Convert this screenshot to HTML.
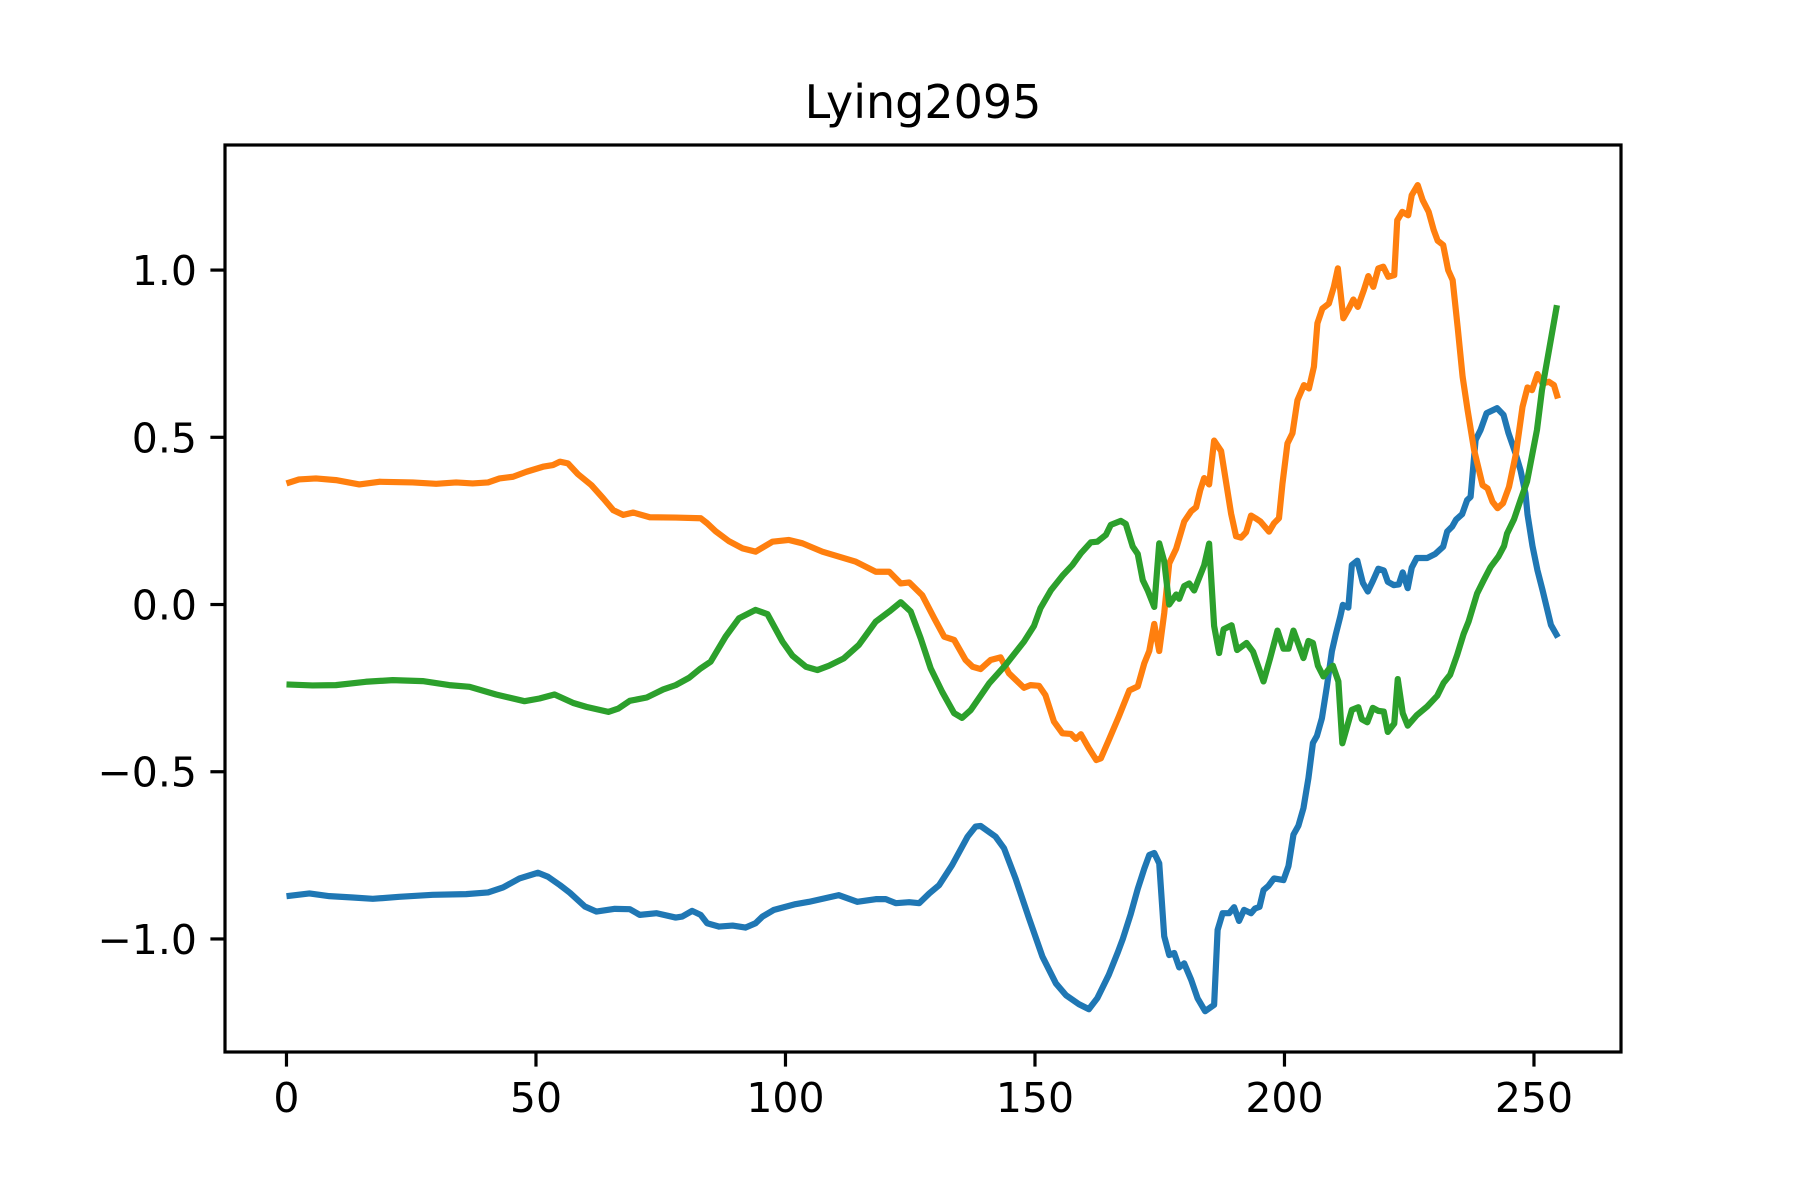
<!DOCTYPE html>
<html>
<head>
<meta charset="utf-8">
<style>
  html, body { margin: 0; padding: 0; background: #ffffff; }
  svg { display: block; font-family: "DejaVu Sans", "Liberation Sans", sans-serif; }
</style>
</head>
<body>
<svg id="chart" width="1800" height="1200" viewBox="0 0 1800 1200" xmlns="http://www.w3.org/2000/svg">
  <rect x="0" y="0" width="1800" height="1200" fill="#ffffff"></rect>
  <text x="923" y="118" text-anchor="middle" font-size="46" fill="#000">Lying2095</text>
  <g id="series-layer"></g>
  <g id="axis-layer"></g>
  <rect x="225" y="145" width="1396" height="907" fill="none" stroke="#000" stroke-width="3.2"></rect>
</svg>
<script>
const xTicks = [0, 50, 100, 150, 200, 250];
const xTickLabels = ["0", "50", "100", "150", "200", "250"];
const yTicks = [-1.0, -0.5, 0.0, 0.5, 1.0];
const yTickLabels = ["\u22121.0", "\u22120.5", "0.0", "0.5", "1.0"];

const blueX = [0,4.6,8.6,13.3,17.3,22.6,29.3,36,40.4,43.4,46.7,50.4,52.4,54.8,56.8,59.8,62.1,65.8,68.8,70.8,74.2,78,79.3,81.3,83,84.3,86.7,89.4,92,94,95.4,97.7,102,104.7,110.7,114.4,118.1,120.1,122.1,124.8,126.8,128.8,130.8,133.4,136.5,138.1,139.1,142.1,143.8,146.1,148.8,151.5,154.2,156.2,158.8,160.8,162.5,164.8,166.6,167.6,169.2,170.6,171.9,172.9,173.9,174.9,175.9,176.9,177.9,178.9,179.9,181.3,182.6,184.1,185.9,186.6,187.6,188.9,189.9,190.9,191.9,193.3,194.1,195,195.8,196.8,197.9,199.8,200.8,201.8,202.8,203.8,204.8,205.7,206.5,207.5,208.5,209.5,210.3,211.2,211.7,212.8,213.5,214.6,215.7,216.7,217.7,218.8,219.9,220.7,221.9,222.9,223.7,224.7,225.5,226.5,228.6,230.2,231.8,232.6,233.6,234.4,235.6,236.6,237.3,238.3,239.3,240.5,242.6,243.9,244.9,246.3,247.3,248.3,248.7,249.7,250.7,251.7,253.4,254.8];
const blueY = [-0.872,-0.864,-0.872,-0.876,-0.88,-0.874,-0.868,-0.866,-0.861,-0.846,-0.819,-0.802,-0.814,-0.839,-0.862,-0.903,-0.918,-0.91,-0.911,-0.928,-0.923,-0.936,-0.933,-0.916,-0.928,-0.953,-0.963,-0.96,-0.966,-0.953,-0.933,-0.913,-0.896,-0.889,-0.869,-0.889,-0.881,-0.881,-0.893,-0.89,-0.893,-0.864,-0.839,-0.779,-0.694,-0.664,-0.662,-0.694,-0.729,-0.819,-0.938,-1.053,-1.133,-1.168,-1.195,-1.21,-1.177,-1.107,-1.04,-1.0,-0.925,-0.85,-0.79,-0.749,-0.743,-0.774,-0.992,-1.048,-1.042,-1.085,-1.073,-1.122,-1.178,-1.216,-1.197,-0.973,-0.923,-0.923,-0.905,-0.946,-0.913,-0.923,-0.909,-0.904,-0.854,-0.841,-0.819,-0.824,-0.782,-0.688,-0.661,-0.609,-0.519,-0.414,-0.393,-0.34,-0.245,-0.14,-0.088,-0.035,-0.001,-0.009,0.118,0.131,0.065,0.039,0.07,0.107,0.102,0.068,0.058,0.06,0.096,0.049,0.11,0.139,0.139,0.151,0.173,0.218,0.233,0.254,0.27,0.312,0.322,0.492,0.522,0.572,0.587,0.567,0.512,0.452,0.402,0.332,0.27,0.175,0.102,0.044,-0.061,-0.098];

const orangeX = [0,2.5,5.9,9.9,14.6,18.6,25.3,30,34,37.3,40.4,42.7,45.4,48.1,51.4,53.4,54.8,56.4,58.4,61.1,63.5,65.5,67.5,69.5,72.8,78,83,84.3,86,88.7,91.4,94,95.7,97.4,100.7,103.4,107.4,114.1,118.1,120.8,123.1,124.8,127.4,129.8,131.8,133.8,136.1,137.5,139.1,141.1,143.1,144.8,147.8,149.1,150.8,152.1,153.8,155.5,157.2,158.2,159.2,160.8,162.3,163.2,164.8,166.8,168.9,170.6,171.9,172.9,173.9,174.9,175.9,176.9,178.3,179.9,181.3,182.3,183.1,183.9,184.9,185.9,187.3,189.3,190.3,191.3,192.3,193.3,194.2,195.2,196.9,197.9,198.9,199.6,200.6,201.6,202.6,203.9,204.9,205.9,206.6,207.6,208.9,209.9,210.7,211.8,212.9,213.8,214.7,215.9,216.8,217.8,218.8,219.8,220.8,222,222.6,223.6,224.8,225.5,226.7,227.7,228.9,229.9,230.7,231.8,232.8,233.7,234.7,235.7,236.7,238,239.7,240.7,241.7,242.7,243.8,245,246.4,247.7,248.7,249.6,250.7,251.7,253,254,254.8];
const orangeY = [0.362,0.374,0.377,0.372,0.359,0.367,0.365,0.361,0.365,0.362,0.365,0.377,0.382,0.397,0.412,0.417,0.427,0.422,0.39,0.357,0.317,0.282,0.268,0.275,0.261,0.26,0.258,0.243,0.219,0.189,0.168,0.158,0.173,0.188,0.193,0.183,0.158,0.128,0.098,0.098,0.063,0.066,0.028,-0.041,-0.096,-0.106,-0.166,-0.186,-0.193,-0.166,-0.158,-0.206,-0.249,-0.241,-0.243,-0.271,-0.35,-0.385,-0.387,-0.402,-0.388,-0.43,-0.465,-0.46,-0.405,-0.335,-0.257,-0.245,-0.176,-0.139,-0.058,-0.139,-0.026,0.123,0.167,0.248,0.279,0.291,0.341,0.378,0.359,0.49,0.459,0.272,0.204,0.2,0.216,0.266,0.258,0.248,0.218,0.243,0.258,0.362,0.482,0.512,0.611,0.656,0.646,0.711,0.841,0.885,0.9,0.95,1.005,0.856,0.885,0.912,0.89,0.94,0.982,0.95,1.005,1.01,0.98,0.985,1.149,1.174,1.164,1.224,1.254,1.209,1.174,1.12,1.088,1.075,1.0,0.97,0.83,0.681,0.581,0.462,0.357,0.347,0.307,0.288,0.303,0.352,0.452,0.591,0.649,0.641,0.689,0.661,0.666,0.656,0.616];

const greenX = [0,5.2,9.9,15.9,21.3,27.3,32.6,36.7,42,47.7,50.7,53.7,57.4,60.1,64.5,66.5,68.8,72.2,75.5,78,80.7,83,85,88,90.7,94,96.4,99.4,101.4,104.1,106.4,108.7,111.7,114.7,118.1,120.8,123.1,125.1,127.1,129.1,131.4,133.8,135.4,137.1,140.8,144.1,147.8,149.8,151.1,153.2,155.5,157.5,159.2,161.2,162.5,164.2,165.2,167.2,168.2,169.6,170.6,171.6,172.6,173.9,174.9,175.9,176.9,178.3,178.9,179.9,180.9,181.9,183.9,184.9,185.9,186.9,187.8,189.4,190.5,192.4,193.7,195.8,197.1,198.6,199.8,200.8,201.8,203.8,204.8,205.7,206.7,207.8,208.8,209.7,210.8,211.6,212.8,213.5,214.8,215.5,216.6,217.7,218.8,219.9,220.7,222,222.7,223.7,224.7,226.5,228.6,230.6,231.9,233.2,234.6,235.9,236.9,238.6,239.9,241.3,242.9,244,244.6,246,247.3,248.6,250.6,251.6,254.6];
const greenY = [-0.239,-0.242,-0.241,-0.231,-0.226,-0.229,-0.241,-0.246,-0.269,-0.289,-0.281,-0.269,-0.294,-0.306,-0.321,-0.311,-0.288,-0.278,-0.254,-0.241,-0.219,-0.191,-0.171,-0.096,-0.041,-0.016,-0.029,-0.111,-0.153,-0.186,-0.196,-0.183,-0.161,-0.121,-0.051,-0.021,0.007,-0.021,-0.101,-0.191,-0.261,-0.325,-0.339,-0.316,-0.236,-0.181,-0.111,-0.064,-0.011,0.043,0.086,0.118,0.153,0.186,0.188,0.208,0.238,0.25,0.241,0.173,0.151,0.073,0.042,-0.007,0.183,0.129,0.0,0.03,0.017,0.055,0.063,0.042,0.117,0.182,-0.064,-0.145,-0.074,-0.062,-0.136,-0.115,-0.141,-0.23,-0.162,-0.078,-0.132,-0.132,-0.078,-0.16,-0.109,-0.115,-0.183,-0.215,-0.195,-0.183,-0.23,-0.415,-0.352,-0.315,-0.307,-0.343,-0.352,-0.309,-0.318,-0.32,-0.381,-0.356,-0.223,-0.325,-0.362,-0.331,-0.305,-0.273,-0.234,-0.21,-0.151,-0.088,-0.051,0.033,0.072,0.112,0.144,0.175,0.212,0.255,0.312,0.367,0.522,0.641,0.895];

const PLOT = { left: 225, right: 1621, top: 145, bottom: 1052 };
const X_MIN = -12.32, X_MAX = 267.44;
const Y_MIN = -1.338, Y_MAX = 1.374;
const NS = "http://www.w3.org/2000/svg";

function xScale(v) { return PLOT.left + (v - X_MIN) / (X_MAX - X_MIN) * (PLOT.right - PLOT.left); }
function yScale(v) { return PLOT.bottom - (v - Y_MIN) / (Y_MAX - Y_MIN) * (PLOT.bottom - PLOT.top); }

const seriesLayer = document.getElementById('series-layer');
const axisLayer = document.getElementById('axis-layer');

function drawSeries(xs, ys, color, name) {
  const pts = xs.map((x, i) => xScale(x).toFixed(2) + ',' + yScale(ys[i]).toFixed(2)).join(' ');
  const pl = document.createElementNS(NS, 'polyline');
  pl.setAttribute('points', pts);
  pl.setAttribute('fill', 'none');
  pl.setAttribute('stroke', color);
  pl.setAttribute('stroke-width', '6.2');
  pl.setAttribute('stroke-linejoin', 'round');
  pl.setAttribute('stroke-linecap', 'butt');
  
  
  seriesLayer.appendChild(pl);
}
drawSeries(blueX, blueY, '#1f77b4', 'series-0-line');
drawSeries(orangeX, orangeY, '#ff7f0e', 'series-1-line');
drawSeries(greenX, greenY, '#2ca02c', 'series-2-line');

xTicks.forEach((t, i) => {
  const x = xScale(t);
  const ln = document.createElementNS(NS, 'line');
  ln.setAttribute('x1', x); ln.setAttribute('x2', x);
  ln.setAttribute('y1', PLOT.bottom); ln.setAttribute('y2', PLOT.bottom + 14.6);
  ln.setAttribute('stroke', '#000'); ln.setAttribute('stroke-width', '3.2');
  
  
  axisLayer.appendChild(ln);
  const tx = document.createElementNS(NS, 'text');
  tx.setAttribute('x', x); tx.setAttribute('y', 1112);
  tx.setAttribute('text-anchor', 'middle');
  tx.setAttribute('font-size', '41');
  tx.textContent = xTickLabels[i];
  
  
  axisLayer.appendChild(tx);
});

yTicks.forEach((t, i) => {
  const y = yScale(t);
  const ln = document.createElementNS(NS, 'line');
  ln.setAttribute('x1', PLOT.left - 14.6); ln.setAttribute('x2', PLOT.left);
  ln.setAttribute('y1', y); ln.setAttribute('y2', y);
  ln.setAttribute('stroke', '#000'); ln.setAttribute('stroke-width', '3.2');
  
  
  axisLayer.appendChild(ln);
  const tx = document.createElementNS(NS, 'text');
  tx.setAttribute('x', PLOT.left - 28); tx.setAttribute('y', y + 15);
  tx.setAttribute('text-anchor', 'end');
  tx.setAttribute('font-size', '41');
  tx.textContent = yTickLabels[i];
  
  
  axisLayer.appendChild(tx);
});
</script>
</body>
</html>
